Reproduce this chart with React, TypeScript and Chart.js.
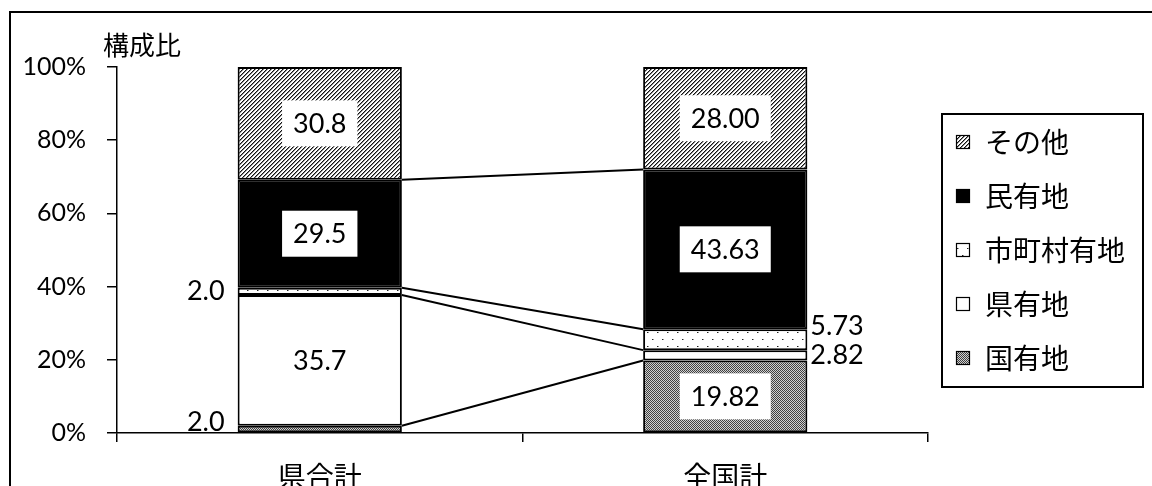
import React, { useEffect, useRef } from "react";
import { Chart, registerables } from "chart.js";

Chart.register(...registerables);

// 所有区分別の構成比（%）
const categories = ["県合計", "全国計"];
const seriesNames = ["国有地", "県有地", "市町村有地", "民有地", "その他"];
const kokuyuchi = [2.0, 19.82];
const kenyuchi = [35.7, 2.82];
const shichosonyuchi = [2.0, 5.73];
const minyuchi = [29.5, 43.63];
const sonota = [30.8, 28.0];
const labelDecimals = [1, 2];
const yTickStep = 20;
const yAxisTitle = "構成比";

const LATIN = "Lato, 'Noto Sans CJK JP', sans-serif";
const CJK = "'Noto Sans CJK JP', sans-serif";

function makeTile(w: number, h: number, draw: (c: CanvasRenderingContext2D) => void) {
  const cv = document.createElement("canvas");
  cv.width = w;
  cv.height = h;
  const c = cv.getContext("2d")!;
  draw(c);
  return c.createPattern(cv, "repeat")!;
}

function makeFills() {
  const checker = makeTile(2, 2, (c) => {
    c.fillStyle = "#d0d0d0";
    c.fillRect(0, 0, 2, 2);
    c.fillStyle = "#404040";
    c.fillRect(0, 0, 1, 1);
    c.fillRect(1, 1, 1, 1);
  });
  const dots = makeTile(10, 14, (c) => {
    c.fillStyle = "#ffffff";
    c.fillRect(0, 0, 10, 14);
    c.fillStyle = "#222";
    c.fillRect(2, 3, 1, 1);
    c.fillRect(7, 10, 1, 1);
    c.fillStyle = "#999";
    c.fillRect(3, 3, 1, 1);
    c.fillRect(8, 10, 1, 1);
  });
  const hatch = makeTile(4, 4, (c) => {
    c.fillStyle = "#ffffff";
    c.fillRect(0, 0, 4, 4);
    for (let i = 0; i < 4; i++) {
      c.fillStyle = "#111";
      c.fillRect(i, 3 - i, 1, 1);
      c.fillStyle = "#8a8a8a";
      c.fillRect(i, (4 - i) % 4, 1, 1);
    }
  });
  return [checker, "#ffffff", dots, "#000000", hatch];
}

const backgroundPlugin = {
  id: "frame",
  beforeDraw(chart: any) {
    const { ctx, width, height } = chart;
    ctx.save();
    ctx.fillStyle = "#ffffff";
    ctx.fillRect(0, 0, width, height);
    ctx.strokeStyle = "#000";
    ctx.lineWidth = 2;
    ctx.strokeRect(10, 12, width + 40, height + 40);
    ctx.fillStyle = "#000";
    ctx.font = `26px ${CJK}`;
    ctx.textAlign = "left";
    ctx.textBaseline = "middle";
    ctx.fillText(yAxisTitle, 103, 45);
    ctx.restore();
  },
};

// 系列線：隣り合う棒の各区分の上端を結ぶ
const seriesLinePlugin = {
  id: "seriesLines",
  afterDatasetsDraw(chart: any) {
    const { ctx } = chart;
    ctx.save();
    ctx.strokeStyle = "#000";
    ctx.lineWidth = 2;
    const n = chart.data.datasets.length;
    for (let di = 0; di < n - 1; di++) {
      const els = chart.getDatasetMeta(di).data;
      for (let i = 0; i < els.length - 1; i++) {
        const a = els[i].getProps(["x", "y", "width"], true);
        const b = els[i + 1].getProps(["x", "y", "width"], true);
        ctx.beginPath();
        ctx.moveTo(a.x + a.width / 2, a.y);
        ctx.lineTo(b.x - b.width / 2, b.y);
        ctx.stroke();
      }
    }
    ctx.restore();
  },
};

const labelPlugin = {
  id: "segmentLabels",
  afterDatasetsDraw(chart: any) {
    const { ctx, chartArea } = chart;
    ctx.save();
    ctx.font = `27px ${LATIN}`;
    ctx.textBaseline = "middle";
    const outside: { cy: number; text: string; x: number; w: number }[][] = categories.map(() => []);
    chart.data.datasets.forEach((ds: any, di: number) => {
      chart.getDatasetMeta(di).data.forEach((el: any, i: number) => {
        const v = ds.data[i] as number;
        const text = v.toFixed(labelDecimals[i]);
        const p = el.getProps(["x", "y", "base", "width"], true);
        const cy = (p.y + p.base) / 2;
        if (v >= 10) {
          const tw = ctx.measureText(text).width;
          const bw = tw + 22;
          const bh = 46;
          ctx.fillStyle = "#ffffff";
          ctx.fillRect(p.x - bw / 2, cy - bh / 2, bw, bh);
          ctx.fillStyle = "#000";
          ctx.textAlign = "center";
          ctx.fillText(text, p.x, cy + 1);
        } else {
          outside[i].push({ cy, text, x: p.x, w: p.width });
        }
      });
    });
    outside.forEach((list, i) => {
      list.sort((a, b) => b.cy - a.cy);
      let prev = chartArea.bottom - 11 + 29;
      list.forEach((l) => {
        const y = Math.min(l.cy, prev - 29);
        prev = y;
        ctx.fillStyle = "#000";
        if (i === 0) {
          ctx.textAlign = "right";
          ctx.fillText(l.text, l.x - l.w / 2 - 13, y);
        } else {
          ctx.textAlign = "left";
          ctx.fillText(l.text, l.x + l.w / 2 + 3, y);
        }
      });
    });
    ctx.restore();
  },
};

const legendPlugin = {
  id: "boxedLegend",
  afterDraw(chart: any) {
    const { ctx } = chart;
    ctx.save();
    ctx.strokeStyle = "#000";
    ctx.lineWidth = 2;
    ctx.strokeRect(942, 114, 201, 273);
    ctx.font = `28px ${CJK}`;
    ctx.textAlign = "left";
    ctx.textBaseline = "middle";
    const ds = chart.data.datasets;
    for (let k = 0; k < ds.length; k++) {
      const d = ds[ds.length - 1 - k];
      const cy = 142 + k * 54;
      ctx.fillStyle = d.backgroundColor;
      ctx.fillRect(956, cy - 7, 14, 14);
      ctx.lineWidth = 1.2;
      ctx.strokeRect(956.5, cy - 6.5, 13, 13);
      ctx.fillStyle = "#000";
      ctx.fillText(d.label, 985, cy);
    }
    ctx.restore();
  },
};

export default function App() {
  const ref = useRef<HTMLCanvasElement>(null);
  useEffect(() => {
    const fills = makeFills();
    const values = [kokuyuchi, kenyuchi, shichosonyuchi, minyuchi, sonota];
    const chart = new Chart(ref.current!, {
      type: "bar",
      data: {
        labels: categories,
        datasets: seriesNames.map((name, i) => ({
          label: name,
          data: values[i],
          backgroundColor: fills[i] as any,
          borderColor: "#000",
          borderWidth: 2,
          borderSkipped: false,
          barPercentage: 0.405,
          categoryPercentage: 1,
          stack: "s",
        })),
      },
      options: {
        responsive: false,
        animation: false,
        events: [],
        layout: { padding: { left: 0, top: 67, right: 224, bottom: 0 } },
        plugins: { legend: { display: false }, tooltip: { enabled: false }, title: { display: false } },
        scales: {
          x: {
            stacked: true,
            offset: true,
            grid: { display: true, drawOnChartArea: false, drawTicks: true, tickLength: 9, offset: true, color: "#000", lineWidth: 1.5 },
            border: { display: true, color: "#000", width: 1.5 },
            ticks: { color: "#000", font: { family: CJK, size: 28 }, padding: 18, maxRotation: 0 },
            afterFit: (s: any) => {
              s.height = 53;
            },
          },
          y: {
            stacked: true,
            min: 0,
            max: 100,
            grid: { display: true, drawOnChartArea: false, drawTicks: true, tickLength: 10, color: "#000", lineWidth: 1.5 },
            border: { display: true, color: "#000", width: 1.5 },
            ticks: {
              stepSize: yTickStep,
              color: "#000",
              font: { family: LATIN, size: 25 },
              padding: 21,
              callback: (v: any) => `${v}%`,
            },
            afterFit: (s: any) => {
              s.width = 117;
            },
          },
        },
      },
      plugins: [backgroundPlugin, seriesLinePlugin, labelPlugin, legendPlugin],
    });
    return () => chart.destroy();
  }, []);
  return (
    <div style={{ position: "fixed", left: 0, top: 0, width: 1152, height: 486, overflow: "hidden", background: "#fff" }}>
      <canvas ref={ref} width={1152} height={486} style={{ display: "block" }} />
    </div>
  );
}
